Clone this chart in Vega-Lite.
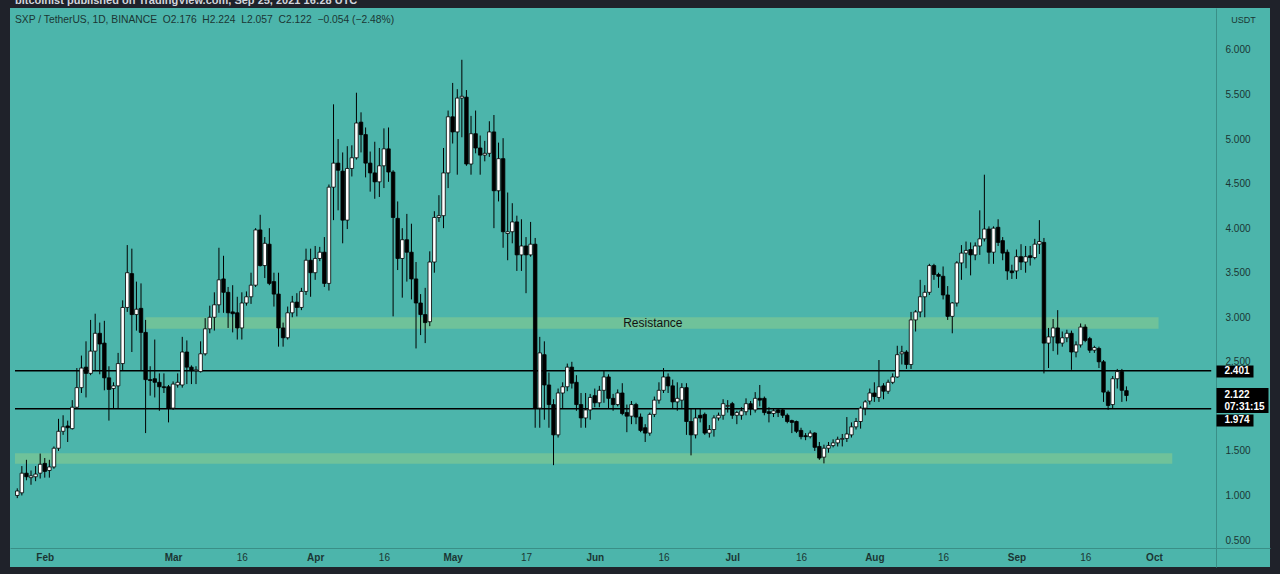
{
  "$schema": "https://vega.github.io/schema/vega-lite/v6.json",
  "width": 1260,
  "height": 559,
  "autosize": "none",
  "padding": {"left": 10, "top": 8, "right": 10, "bottom": 7},
  "background": "#1f222a",
  "view": {"fill": "#4cb5ab", "stroke": null},
  "title": {
    "text": "bitcoinist published on TradingView.com, Sep 25, 2021 16:28 UTC",
    "subtitle": "SXP / TetherUS, 1D, BINANCE\u00a0\u00a0O2.176\u00a0\u00a0H2.224\u00a0\u00a0L2.057\u00a0\u00a0C2.122\u00a0\u00a0−0.054 (−2.48%)",
    "anchor": "start",
    "frame": "group",
    "orient": "top",
    "offset": -17,
    "dx": 5,
    "font": "Liberation Sans",
    "fontSize": 11,
    "fontWeight": "bold",
    "color": "#d1d4dc",
    "subtitleFont": "Liberation Sans",
    "subtitleFontSize": 10.3,
    "subtitleColor": "#1b3533",
    "subtitlePadding": 9
  },
  "datasets": {
    "zones": [
      {"d": "2021-02-23", "d2": "2021-10-02", "lo": 2.87, "hi": 3.0},
      {"d": "2021-01-25T12:10:00Z", "d2": "2021-10-05", "lo": 1.355, "hi": 1.475}
    ],
    "levels": [
      {"d": "2021-01-25T12:10:00Z", "d2": "2021-10-13T12:00:00Z", "p": 2.401},
      {"d": "2021-01-25T12:10:00Z", "d2": "2021-10-13T12:00:00Z", "p": 1.974}
    ],
    "labels": [
      {"d": "2021-06-13T16:00:00Z", "p": 2.935, "t": "Resistance"}
    ],
    "candles": [
      {"d": "2021-01-26", "o": 1.00, "h": 1.08, "l": 0.97, "c": 1.05},
      {"d": "2021-01-27", "o": 1.03, "h": 1.33, "l": 1.00, "c": 1.25},
      {"d": "2021-01-28", "o": 1.25, "h": 1.40, "l": 1.17, "c": 1.21},
      {"d": "2021-01-29", "o": 1.20, "h": 1.28, "l": 1.12, "c": 1.22},
      {"d": "2021-01-30", "o": 1.21, "h": 1.33, "l": 1.16, "c": 1.24},
      {"d": "2021-01-31", "o": 1.25, "h": 1.47, "l": 1.19, "c": 1.35},
      {"d": "2021-02-01", "o": 1.36, "h": 1.42, "l": 1.20, "c": 1.27},
      {"d": "2021-02-02", "o": 1.28, "h": 1.40, "l": 1.20, "c": 1.32},
      {"d": "2021-02-03", "o": 1.32, "h": 1.55, "l": 1.30, "c": 1.53},
      {"d": "2021-02-04", "o": 1.53, "h": 1.86, "l": 1.50, "c": 1.72},
      {"d": "2021-02-05", "o": 1.72, "h": 1.90, "l": 1.68, "c": 1.77},
      {"d": "2021-02-06", "o": 1.78, "h": 1.84, "l": 1.60, "c": 1.76},
      {"d": "2021-02-07", "o": 1.75, "h": 2.07, "l": 1.74, "c": 1.99},
      {"d": "2021-02-08", "o": 1.99, "h": 2.43, "l": 1.97, "c": 2.21},
      {"d": "2021-02-09", "o": 2.21, "h": 2.57, "l": 2.15, "c": 2.43},
      {"d": "2021-02-10", "o": 2.44, "h": 2.73, "l": 2.10, "c": 2.37},
      {"d": "2021-02-11", "o": 2.37, "h": 2.97, "l": 2.35, "c": 2.62},
      {"d": "2021-02-12", "o": 2.62, "h": 3.04, "l": 2.40, "c": 2.82},
      {"d": "2021-02-13", "o": 2.82, "h": 2.94, "l": 2.36, "c": 2.70},
      {"d": "2021-02-14", "o": 2.71, "h": 2.96, "l": 2.18, "c": 2.32},
      {"d": "2021-02-15", "o": 2.32, "h": 2.45, "l": 1.84, "c": 2.19},
      {"d": "2021-02-16", "o": 2.20, "h": 2.27, "l": 1.97, "c": 2.23},
      {"d": "2021-02-17", "o": 2.23, "h": 2.60, "l": 1.98, "c": 2.48},
      {"d": "2021-02-18", "o": 2.48, "h": 3.19, "l": 2.40, "c": 3.11},
      {"d": "2021-02-19", "o": 3.11, "h": 3.81, "l": 3.06, "c": 3.50},
      {"d": "2021-02-20", "o": 3.49, "h": 3.77, "l": 2.61, "c": 3.03},
      {"d": "2021-02-21", "o": 3.03, "h": 3.40, "l": 2.85, "c": 3.09},
      {"d": "2021-02-22", "o": 3.10, "h": 3.38, "l": 2.40, "c": 2.83},
      {"d": "2021-02-23", "o": 2.83, "h": 2.97, "l": 1.70, "c": 2.30},
      {"d": "2021-02-24", "o": 2.30, "h": 2.45, "l": 2.12, "c": 2.29},
      {"d": "2021-02-25", "o": 2.31, "h": 2.75, "l": 2.10, "c": 2.27},
      {"d": "2021-02-26", "o": 2.27, "h": 2.37, "l": 1.95, "c": 2.22},
      {"d": "2021-02-27", "o": 2.22, "h": 2.37, "l": 2.15, "c": 2.21},
      {"d": "2021-02-28", "o": 2.22, "h": 2.24, "l": 1.82, "c": 1.98},
      {"d": "2021-03-01", "o": 1.98, "h": 2.28, "l": 1.96, "c": 2.25},
      {"d": "2021-03-02", "o": 2.24, "h": 2.37, "l": 2.21, "c": 2.27},
      {"d": "2021-03-03", "o": 2.24, "h": 2.78, "l": 2.21, "c": 2.61},
      {"d": "2021-03-04", "o": 2.61, "h": 2.74, "l": 2.25, "c": 2.44},
      {"d": "2021-03-05", "o": 2.44, "h": 2.46, "l": 2.25, "c": 2.40},
      {"d": "2021-03-06", "o": 2.40, "h": 2.45, "l": 2.25, "c": 2.41},
      {"d": "2021-03-07", "o": 2.39, "h": 2.73, "l": 2.38, "c": 2.59},
      {"d": "2021-03-08", "o": 2.59, "h": 2.99, "l": 2.57, "c": 2.87},
      {"d": "2021-03-09", "o": 2.87, "h": 3.13, "l": 2.82, "c": 3.00},
      {"d": "2021-03-10", "o": 3.00, "h": 3.28, "l": 2.85, "c": 3.14},
      {"d": "2021-03-11", "o": 3.14, "h": 3.78, "l": 3.05, "c": 3.42},
      {"d": "2021-03-12", "o": 3.43, "h": 3.69, "l": 3.05, "c": 3.28},
      {"d": "2021-03-13", "o": 3.28, "h": 3.34, "l": 2.88, "c": 3.05},
      {"d": "2021-03-14", "o": 3.06, "h": 3.36, "l": 2.83, "c": 3.04},
      {"d": "2021-03-15", "o": 3.05, "h": 3.23, "l": 2.75, "c": 2.88},
      {"d": "2021-03-16", "o": 2.88, "h": 3.28, "l": 2.75, "c": 3.16},
      {"d": "2021-03-17", "o": 3.16, "h": 3.29, "l": 3.13, "c": 3.23},
      {"d": "2021-03-18", "o": 3.23, "h": 3.50, "l": 3.15, "c": 3.36},
      {"d": "2021-03-19", "o": 3.36, "h": 4.00, "l": 3.34, "c": 3.98},
      {"d": "2021-03-20", "o": 3.98, "h": 4.15, "l": 3.57, "c": 3.58},
      {"d": "2021-03-21", "o": 3.58, "h": 3.90, "l": 3.44, "c": 3.83},
      {"d": "2021-03-22", "o": 3.82, "h": 4.00, "l": 3.36, "c": 3.38},
      {"d": "2021-03-23", "o": 3.40, "h": 3.50, "l": 3.12, "c": 3.26},
      {"d": "2021-03-24", "o": 3.26, "h": 3.50, "l": 2.67, "c": 2.88},
      {"d": "2021-03-25", "o": 2.88, "h": 2.94, "l": 2.67, "c": 2.77},
      {"d": "2021-03-26", "o": 2.77, "h": 3.12, "l": 2.75, "c": 3.05},
      {"d": "2021-03-27", "o": 3.05, "h": 3.24, "l": 3.00, "c": 3.17},
      {"d": "2021-03-28", "o": 3.17, "h": 3.27, "l": 3.01, "c": 3.11},
      {"d": "2021-03-29", "o": 3.11, "h": 3.33, "l": 3.08, "c": 3.29},
      {"d": "2021-03-30", "o": 3.29, "h": 3.77, "l": 3.25, "c": 3.64},
      {"d": "2021-03-31", "o": 3.64, "h": 3.77, "l": 3.23, "c": 3.50},
      {"d": "2021-04-01", "o": 3.50, "h": 3.80, "l": 3.42, "c": 3.66},
      {"d": "2021-04-02", "o": 3.66, "h": 3.79, "l": 3.63, "c": 3.73},
      {"d": "2021-04-03", "o": 3.73, "h": 3.90, "l": 3.34, "c": 3.38},
      {"d": "2021-04-04", "o": 3.38, "h": 4.49, "l": 3.30, "c": 4.46},
      {"d": "2021-04-05", "o": 4.46, "h": 5.39, "l": 4.09, "c": 4.73},
      {"d": "2021-04-06", "o": 4.73, "h": 5.00, "l": 4.20, "c": 4.65},
      {"d": "2021-04-07", "o": 4.64, "h": 4.85, "l": 3.83, "c": 4.09},
      {"d": "2021-04-08", "o": 4.09, "h": 4.92, "l": 3.99, "c": 4.67},
      {"d": "2021-04-09", "o": 4.67, "h": 4.93, "l": 4.58, "c": 4.79},
      {"d": "2021-04-10", "o": 4.79, "h": 5.52, "l": 4.77, "c": 5.18},
      {"d": "2021-04-11", "o": 5.19, "h": 5.30, "l": 4.85, "c": 5.05},
      {"d": "2021-04-12", "o": 5.05, "h": 5.13, "l": 4.57, "c": 4.73},
      {"d": "2021-04-13", "o": 4.73, "h": 4.86, "l": 4.41, "c": 4.62},
      {"d": "2021-04-14", "o": 4.62, "h": 4.97, "l": 4.33, "c": 4.52},
      {"d": "2021-04-15", "o": 4.52, "h": 4.90, "l": 4.35, "c": 4.70},
      {"d": "2021-04-16", "o": 4.70, "h": 5.12, "l": 4.45, "c": 4.89},
      {"d": "2021-04-17", "o": 4.89, "h": 5.13, "l": 4.52, "c": 4.63},
      {"d": "2021-04-18", "o": 4.63, "h": 4.65, "l": 3.01, "c": 4.12},
      {"d": "2021-04-19", "o": 4.11, "h": 4.30, "l": 3.53, "c": 3.66},
      {"d": "2021-04-20", "o": 3.66, "h": 4.00, "l": 3.22, "c": 3.87},
      {"d": "2021-04-21", "o": 3.87, "h": 4.16, "l": 3.40, "c": 3.73},
      {"d": "2021-04-22", "o": 3.73, "h": 4.05, "l": 3.20, "c": 3.43},
      {"d": "2021-04-23", "o": 3.43, "h": 3.62, "l": 2.65, "c": 3.16},
      {"d": "2021-04-24", "o": 3.16, "h": 3.26, "l": 2.80, "c": 3.03},
      {"d": "2021-04-25", "o": 3.03, "h": 3.33, "l": 2.71, "c": 2.94},
      {"d": "2021-04-26", "o": 2.95, "h": 3.74, "l": 2.90, "c": 3.62},
      {"d": "2021-04-27", "o": 3.62, "h": 4.19, "l": 3.50, "c": 4.12},
      {"d": "2021-04-28", "o": 4.12, "h": 4.37, "l": 4.07, "c": 4.14},
      {"d": "2021-04-29", "o": 4.14, "h": 4.90, "l": 4.00, "c": 4.62},
      {"d": "2021-04-30", "o": 4.62, "h": 5.32, "l": 4.45, "c": 5.25},
      {"d": "2021-05-01", "o": 5.25, "h": 5.63, "l": 4.95, "c": 5.08},
      {"d": "2021-05-02", "o": 5.08, "h": 5.56, "l": 4.60, "c": 5.46},
      {"d": "2021-05-03", "o": 5.46, "h": 5.89, "l": 5.02, "c": 5.48},
      {"d": "2021-05-04", "o": 5.47, "h": 5.55, "l": 4.70, "c": 4.72},
      {"d": "2021-05-05", "o": 4.72, "h": 5.26, "l": 4.60, "c": 5.06},
      {"d": "2021-05-06", "o": 5.06, "h": 5.32, "l": 4.84, "c": 4.90},
      {"d": "2021-05-07", "o": 4.90, "h": 5.04, "l": 4.60, "c": 4.82},
      {"d": "2021-05-08", "o": 4.82, "h": 4.98, "l": 4.75, "c": 4.84},
      {"d": "2021-05-09", "o": 4.84, "h": 5.20, "l": 4.80, "c": 5.08},
      {"d": "2021-05-10", "o": 5.08, "h": 5.27, "l": 4.00, "c": 4.42},
      {"d": "2021-05-11", "o": 4.42, "h": 4.96, "l": 4.30, "c": 4.78},
      {"d": "2021-05-12", "o": 4.78, "h": 5.01, "l": 3.78, "c": 3.96},
      {"d": "2021-05-13", "o": 3.94, "h": 4.40, "l": 3.64, "c": 3.96},
      {"d": "2021-05-14", "o": 3.96, "h": 4.28, "l": 3.83, "c": 4.07},
      {"d": "2021-05-15", "o": 4.07, "h": 4.14, "l": 3.52, "c": 3.70},
      {"d": "2021-05-16", "o": 3.70, "h": 4.10, "l": 3.52, "c": 3.80},
      {"d": "2021-05-17", "o": 3.80, "h": 3.90, "l": 3.27, "c": 3.70},
      {"d": "2021-05-18", "o": 3.70, "h": 4.07, "l": 3.68, "c": 3.82},
      {"d": "2021-05-19", "o": 3.82, "h": 3.89, "l": 1.76, "c": 1.98},
      {"d": "2021-05-20", "o": 1.98, "h": 2.78, "l": 1.76, "c": 2.60},
      {"d": "2021-05-21", "o": 2.58, "h": 2.73, "l": 1.85, "c": 2.24},
      {"d": "2021-05-22", "o": 2.24, "h": 2.38, "l": 1.76, "c": 2.02},
      {"d": "2021-05-23", "o": 2.02, "h": 2.08, "l": 1.34, "c": 1.68},
      {"d": "2021-05-24", "o": 1.68, "h": 2.20, "l": 1.65, "c": 2.15},
      {"d": "2021-05-25", "o": 2.15, "h": 2.27, "l": 1.97, "c": 2.22},
      {"d": "2021-05-26", "o": 2.22, "h": 2.48, "l": 2.17, "c": 2.44},
      {"d": "2021-05-27", "o": 2.44, "h": 2.50, "l": 2.20, "c": 2.26},
      {"d": "2021-05-28", "o": 2.27, "h": 2.35, "l": 1.95, "c": 2.02},
      {"d": "2021-05-29", "o": 2.02, "h": 2.15, "l": 1.76, "c": 1.87},
      {"d": "2021-05-30", "o": 1.87, "h": 2.15, "l": 1.76, "c": 1.96},
      {"d": "2021-05-31", "o": 1.96, "h": 2.14, "l": 1.85, "c": 2.10},
      {"d": "2021-06-01", "o": 2.12, "h": 2.20, "l": 1.99, "c": 2.04},
      {"d": "2021-06-02", "o": 2.04, "h": 2.23, "l": 1.99, "c": 2.18},
      {"d": "2021-06-03", "o": 2.18, "h": 2.40, "l": 2.04, "c": 2.33},
      {"d": "2021-06-04", "o": 2.33, "h": 2.36, "l": 1.98, "c": 2.09},
      {"d": "2021-06-05", "o": 2.09, "h": 2.14, "l": 1.95, "c": 2.02},
      {"d": "2021-06-06", "o": 2.02, "h": 2.19, "l": 2.00, "c": 2.15},
      {"d": "2021-06-07", "o": 2.15, "h": 2.26, "l": 1.90, "c": 1.92},
      {"d": "2021-06-08", "o": 1.93, "h": 2.02, "l": 1.71, "c": 1.89},
      {"d": "2021-06-09", "o": 1.89, "h": 2.06, "l": 1.80, "c": 2.02},
      {"d": "2021-06-10", "o": 2.02, "h": 2.04, "l": 1.80, "c": 1.88},
      {"d": "2021-06-11", "o": 1.88, "h": 1.92, "l": 1.71, "c": 1.73},
      {"d": "2021-06-12", "o": 1.76, "h": 1.80, "l": 1.60, "c": 1.70},
      {"d": "2021-06-13", "o": 1.70, "h": 1.93, "l": 1.67, "c": 1.91},
      {"d": "2021-06-14", "o": 1.91, "h": 2.11, "l": 1.88, "c": 2.07},
      {"d": "2021-06-15", "o": 2.07, "h": 2.27, "l": 2.03, "c": 2.18},
      {"d": "2021-06-16", "o": 2.18, "h": 2.43, "l": 2.15, "c": 2.33},
      {"d": "2021-06-17", "o": 2.33, "h": 2.37, "l": 2.15, "c": 2.23},
      {"d": "2021-06-18", "o": 2.23, "h": 2.30, "l": 1.98, "c": 2.05},
      {"d": "2021-06-19", "o": 2.05, "h": 2.27, "l": 1.95, "c": 2.09},
      {"d": "2021-06-20", "o": 2.07, "h": 2.26, "l": 1.97, "c": 2.21},
      {"d": "2021-06-21", "o": 2.21, "h": 2.26, "l": 1.68, "c": 1.83},
      {"d": "2021-06-22", "o": 1.83, "h": 1.97, "l": 1.45, "c": 1.68},
      {"d": "2021-06-23", "o": 1.68, "h": 1.97, "l": 1.64, "c": 1.87},
      {"d": "2021-06-24", "o": 1.90, "h": 1.97, "l": 1.82, "c": 1.87},
      {"d": "2021-06-25", "o": 1.91, "h": 1.93, "l": 1.68, "c": 1.70},
      {"d": "2021-06-26", "o": 1.70, "h": 1.79, "l": 1.65, "c": 1.74},
      {"d": "2021-06-27", "o": 1.74, "h": 1.90, "l": 1.66, "c": 1.87},
      {"d": "2021-06-28", "o": 1.87, "h": 1.93, "l": 1.84, "c": 1.90},
      {"d": "2021-06-29", "o": 1.90, "h": 2.08, "l": 1.85, "c": 2.03},
      {"d": "2021-06-30", "o": 2.00, "h": 2.07, "l": 1.93, "c": 2.01},
      {"d": "2021-07-01", "o": 2.03, "h": 2.05, "l": 1.86, "c": 1.90},
      {"d": "2021-07-02", "o": 1.90, "h": 1.95, "l": 1.80, "c": 1.93},
      {"d": "2021-07-03", "o": 1.90, "h": 1.99, "l": 1.85, "c": 1.95},
      {"d": "2021-07-04", "o": 1.94, "h": 2.09, "l": 1.90, "c": 2.03},
      {"d": "2021-07-05", "o": 2.03, "h": 2.06, "l": 1.90, "c": 1.97},
      {"d": "2021-07-06", "o": 1.96, "h": 2.16, "l": 1.93, "c": 2.09},
      {"d": "2021-07-07", "o": 2.09, "h": 2.24, "l": 2.00, "c": 2.07},
      {"d": "2021-07-08", "o": 2.09, "h": 2.11, "l": 1.90, "c": 1.93},
      {"d": "2021-07-09", "o": 1.94, "h": 1.99, "l": 1.82, "c": 1.92},
      {"d": "2021-07-10", "o": 1.92, "h": 1.97, "l": 1.88, "c": 1.95},
      {"d": "2021-07-11", "o": 1.96, "h": 1.98, "l": 1.88, "c": 1.93},
      {"d": "2021-07-12", "o": 1.96, "h": 1.98, "l": 1.87, "c": 1.90},
      {"d": "2021-07-13", "o": 1.90, "h": 1.92, "l": 1.81, "c": 1.83},
      {"d": "2021-07-14", "o": 1.84, "h": 1.85, "l": 1.70, "c": 1.82},
      {"d": "2021-07-15", "o": 1.83, "h": 1.84, "l": 1.70, "c": 1.72},
      {"d": "2021-07-16", "o": 1.73, "h": 1.76, "l": 1.63, "c": 1.66},
      {"d": "2021-07-17", "o": 1.67, "h": 1.70, "l": 1.62, "c": 1.66},
      {"d": "2021-07-18", "o": 1.66, "h": 1.73, "l": 1.64, "c": 1.70},
      {"d": "2021-07-19", "o": 1.70, "h": 1.71, "l": 1.50, "c": 1.54},
      {"d": "2021-07-20", "o": 1.55, "h": 1.60, "l": 1.40, "c": 1.42},
      {"d": "2021-07-21", "o": 1.43, "h": 1.57, "l": 1.36, "c": 1.53},
      {"d": "2021-07-22", "o": 1.53, "h": 1.60, "l": 1.48, "c": 1.56},
      {"d": "2021-07-23", "o": 1.56, "h": 1.63, "l": 1.54, "c": 1.59},
      {"d": "2021-07-24", "o": 1.59, "h": 1.66, "l": 1.55, "c": 1.63},
      {"d": "2021-07-25", "o": 1.63, "h": 1.69, "l": 1.55, "c": 1.64},
      {"d": "2021-07-26", "o": 1.64, "h": 1.88, "l": 1.60, "c": 1.69},
      {"d": "2021-07-27", "o": 1.68, "h": 1.82, "l": 1.65, "c": 1.77},
      {"d": "2021-07-28", "o": 1.77, "h": 1.87, "l": 1.74, "c": 1.83},
      {"d": "2021-07-29", "o": 1.83, "h": 2.00, "l": 1.75, "c": 1.98},
      {"d": "2021-07-30", "o": 1.98, "h": 2.07, "l": 1.90, "c": 2.05},
      {"d": "2021-07-31", "o": 2.06, "h": 2.20, "l": 2.02, "c": 2.15},
      {"d": "2021-08-01", "o": 2.15, "h": 2.27, "l": 2.05, "c": 2.11},
      {"d": "2021-08-02", "o": 2.10, "h": 2.52, "l": 2.05, "c": 2.22},
      {"d": "2021-08-03", "o": 2.23, "h": 2.26, "l": 2.08, "c": 2.17},
      {"d": "2021-08-04", "o": 2.17, "h": 2.30, "l": 2.14, "c": 2.27},
      {"d": "2021-08-05", "o": 2.27, "h": 2.37, "l": 2.25, "c": 2.33},
      {"d": "2021-08-06", "o": 2.33, "h": 2.68, "l": 2.32, "c": 2.58},
      {"d": "2021-08-07", "o": 2.59, "h": 2.68, "l": 2.47, "c": 2.61},
      {"d": "2021-08-08", "o": 2.61, "h": 2.63, "l": 2.42, "c": 2.47},
      {"d": "2021-08-09", "o": 2.47, "h": 3.06, "l": 2.42, "c": 2.97},
      {"d": "2021-08-10", "o": 2.97, "h": 3.08, "l": 2.84, "c": 3.06},
      {"d": "2021-08-11", "o": 3.06, "h": 3.42, "l": 3.00, "c": 3.23},
      {"d": "2021-08-12", "o": 3.23, "h": 3.36, "l": 3.00, "c": 3.28},
      {"d": "2021-08-13", "o": 3.28, "h": 3.60, "l": 3.25, "c": 3.58},
      {"d": "2021-08-14", "o": 3.58, "h": 3.60, "l": 3.42, "c": 3.48},
      {"d": "2021-08-15", "o": 3.48, "h": 3.50, "l": 3.33, "c": 3.46},
      {"d": "2021-08-16", "o": 3.46, "h": 3.57, "l": 3.20, "c": 3.25},
      {"d": "2021-08-17", "o": 3.25, "h": 3.35, "l": 2.97, "c": 3.01},
      {"d": "2021-08-18", "o": 3.01, "h": 3.17, "l": 2.82, "c": 3.16},
      {"d": "2021-08-19", "o": 3.16, "h": 3.63, "l": 3.12, "c": 3.61},
      {"d": "2021-08-20", "o": 3.61, "h": 3.81, "l": 3.42, "c": 3.72},
      {"d": "2021-08-21", "o": 3.72, "h": 3.85, "l": 3.55, "c": 3.75},
      {"d": "2021-08-22", "o": 3.76, "h": 3.84, "l": 3.47, "c": 3.70},
      {"d": "2021-08-23", "o": 3.70, "h": 3.84, "l": 3.64, "c": 3.80},
      {"d": "2021-08-24", "o": 3.80, "h": 4.20, "l": 3.70, "c": 3.88},
      {"d": "2021-08-25", "o": 3.88, "h": 4.60, "l": 3.85, "c": 3.99},
      {"d": "2021-08-26", "o": 3.99, "h": 4.02, "l": 3.60, "c": 3.73},
      {"d": "2021-08-27", "o": 3.73, "h": 4.02, "l": 3.60, "c": 4.00},
      {"d": "2021-08-28", "o": 4.01, "h": 4.10, "l": 3.80, "c": 3.84},
      {"d": "2021-08-29", "o": 3.86, "h": 3.90, "l": 3.64, "c": 3.72},
      {"d": "2021-08-30", "o": 3.73, "h": 3.76, "l": 3.42, "c": 3.52},
      {"d": "2021-08-31", "o": 3.52, "h": 3.59, "l": 3.43, "c": 3.50},
      {"d": "2021-09-01", "o": 3.52, "h": 3.76, "l": 3.43, "c": 3.68},
      {"d": "2021-09-02", "o": 3.68, "h": 3.82, "l": 3.53, "c": 3.62},
      {"d": "2021-09-03", "o": 3.62, "h": 3.80, "l": 3.50, "c": 3.68},
      {"d": "2021-09-04", "o": 3.69, "h": 3.80, "l": 3.58, "c": 3.67},
      {"d": "2021-09-05", "o": 3.67, "h": 3.88, "l": 3.65, "c": 3.82},
      {"d": "2021-09-06", "o": 3.82, "h": 4.09, "l": 3.71, "c": 3.85},
      {"d": "2021-09-07", "o": 3.84, "h": 3.89, "l": 2.37, "c": 2.71},
      {"d": "2021-09-08", "o": 2.71, "h": 2.88, "l": 2.43, "c": 2.78},
      {"d": "2021-09-09", "o": 2.78, "h": 2.98, "l": 2.62, "c": 2.88},
      {"d": "2021-09-10", "o": 2.88, "h": 3.08, "l": 2.58, "c": 2.71},
      {"d": "2021-09-11", "o": 2.71, "h": 2.84, "l": 2.67, "c": 2.77},
      {"d": "2021-09-12", "o": 2.77, "h": 2.86, "l": 2.72, "c": 2.82},
      {"d": "2021-09-13", "o": 2.82, "h": 2.85, "l": 2.41, "c": 2.61},
      {"d": "2021-09-14", "o": 2.61, "h": 2.73, "l": 2.55, "c": 2.69},
      {"d": "2021-09-15", "o": 2.69, "h": 2.93, "l": 2.66, "c": 2.89},
      {"d": "2021-09-16", "o": 2.89, "h": 2.92, "l": 2.72, "c": 2.74},
      {"d": "2021-09-17", "o": 2.76, "h": 2.78, "l": 2.60, "c": 2.63},
      {"d": "2021-09-18", "o": 2.63, "h": 2.68, "l": 2.60, "c": 2.66},
      {"d": "2021-09-19", "o": 2.65, "h": 2.67, "l": 2.43, "c": 2.50},
      {"d": "2021-09-20", "o": 2.50, "h": 2.52, "l": 2.05, "c": 2.16},
      {"d": "2021-09-21", "o": 2.16, "h": 2.18, "l": 1.96, "c": 2.01},
      {"d": "2021-09-22", "o": 2.02, "h": 2.34, "l": 1.97, "c": 2.31},
      {"d": "2021-09-23", "o": 2.31, "h": 2.42, "l": 2.20, "c": 2.39},
      {"d": "2021-09-24", "o": 2.39, "h": 2.42, "l": 2.05, "c": 2.18},
      {"d": "2021-09-25", "o": 2.176, "h": 2.224, "l": 2.057, "c": 2.122}
    ]
  },
  "encoding": {
    "x": {
      "field": "d",
      "type": "temporal",
      "scale": {
        "type": "utc",
        "domain": [
          {"year": 2021, "month": 1, "date": 25, "hours": 12, "minutes": 9, "utc": true},
          {"year": 2021, "month": 10, "date": 25, "hours": 5, "minutes": 31, "utc": true}
        ]
      },
      "axis": {
        "orient": "bottom",
        "offset": -19,
        "title": null,
        "values": [
          {"year": 2021, "month": 2, "date": 1, "utc": true},
          {"year": 2021, "month": 3, "date": 1, "utc": true},
          {"year": 2021, "month": 3, "date": 16, "utc": true},
          {"year": 2021, "month": 4, "date": 1, "utc": true},
          {"year": 2021, "month": 4, "date": 16, "utc": true},
          {"year": 2021, "month": 5, "date": 1, "utc": true},
          {"year": 2021, "month": 5, "date": 17, "utc": true},
          {"year": 2021, "month": 6, "date": 1, "utc": true},
          {"year": 2021, "month": 6, "date": 16, "utc": true},
          {"year": 2021, "month": 7, "date": 1, "utc": true},
          {"year": 2021, "month": 7, "date": 16, "utc": true},
          {"year": 2021, "month": 8, "date": 1, "utc": true},
          {"year": 2021, "month": 8, "date": 16, "utc": true},
          {"year": 2021, "month": 9, "date": 1, "utc": true},
          {"year": 2021, "month": 9, "date": 16, "utc": true},
          {"year": 2021, "month": 10, "date": 1, "utc": true}
        ],
        "labelExpr": "utcdate(datum.value) == 1 ? utcFormat(datum.value, '%b') : utcFormat(datum.value, '%-d')",
        "labelFontWeight": {"condition": {"test": "utcdate(datum.value) == 1", "value": "bold"}, "value": "normal"},
        "ticks": false,
        "grid": false,
        "domain": true,
        "domainColor": "#3a8f87",
        "domainWidth": 1,
        "labelPadding": 4,
        "labelFont": "Liberation Sans",
        "labelFontSize": 10,
        "labelColor": "#1b3533",
        "labelOverlap": false,
        "labelFlush": false,
        "labelBound": false
      }
    }
  },
  "layer": [
    {
      "data": {"name": "zones"},
      "mark": {"type": "rect", "fill": "#6fc29a"},
      "encoding": {
        "x2": {"field": "d2"},
        "y": {"field": "lo", "type": "quantitative", "scale": {"domain": [0.197, 6.471], "zero": false, "nice": false}, "axis": null},
        "y2": {"field": "hi"}
      }
    },
    {
      "data": {"name": "levels"},
      "mark": {"type": "rule", "color": "#000000", "strokeWidth": 1.5},
      "encoding": {
        "x2": {"field": "d2"},
        "y": {
          "field": "p",
          "type": "quantitative",
          "scale": {"domain": [0.197, 6.471], "zero": false, "nice": false},
          "axis": {
            "orient": "right",
            "offset": -54,
            "title": null,
            "values": [2.401, 1.847],
            "labelExpr": "datum.value > 2 ? '2.401' : '1.974'",
            "domain": false,
            "grid": false,
            "ticks": true,
            "tickSize": 37,
            "tickWidth": 12,
            "tickColor": "#000000",
            "tickCap": "butt",
            "labelPadding": -29,
            "labelAlign": "left",
            "labelFont": "Liberation Sans",
            "labelFontSize": 10,
            "labelFontWeight": "bold",
            "labelColor": "#ffffff",
            "labelOverlap": false,
            "labelBound": false,
            "zindex": 2
          }
        }
      }
    },
    {
      "data": {"name": "candles"},
      "mark": {"type": "rule", "color": "#000000", "strokeWidth": 1},
      "encoding": {
        "y": {
          "field": "l",
          "type": "quantitative",
          "scale": {"domain": [0.197, 6.471], "zero": false, "nice": false},
          "axis": {
            "orient": "right",
            "offset": -54,
            "title": "USDT",
            "titleAngle": 0,
            "titleAlign": "center",
            "titleBaseline": "middle",
            "titleX": 27,
            "titleY": 11,
            "titleFont": "Liberation Sans",
            "titleFontSize": 9,
            "titleFontWeight": "normal",
            "titleColor": "#1b3533",
            "values": [0.5, 1, 1.5, 2, 2.5, 3, 3.5, 4, 4.5, 5, 5.5, 6],
            "format": ".3f",
            "ticks": false,
            "grid": false,
            "domain": true,
            "domainColor": "#3a8f87",
            "domainWidth": 1,
            "labelPadding": 9,
            "labelAlign": "left",
            "labelFont": "Liberation Sans",
            "labelFontSize": 10,
            "labelColor": "#1b3533",
            "labelOverlap": false,
            "labelBound": false,
            "zindex": 0
          }
        },
        "y2": {"field": "h"}
      }
    },
    {
      "data": {"name": "candles"},
      "mark": {"type": "bar", "width": 3.5, "stroke": "#000000", "strokeWidth": 0.8},
      "encoding": {
        "y": {"field": "o", "type": "quantitative", "scale": {"domain": [0.197, 6.471], "zero": false, "nice": false}, "axis": null},
        "y2": {"field": "c"},
        "fill": {"condition": {"test": "datum.c >= datum.o", "value": "#ffffff"}, "value": "#000000"}
      }
    },
    {
      "data": {"name": "labels"},
      "mark": {"type": "text", "font": "Liberation Sans", "fontSize": 12, "color": "#111111", "align": "center", "baseline": "middle"},
      "encoding": {
        "y": {
          "field": "p",
          "type": "quantitative",
          "scale": {"domain": [0.197, 6.471], "zero": false, "nice": false},
          "axis": {
            "orient": "right",
            "offset": -54,
            "title": null,
            "values": [2.066],
            "labelExpr": "['2.122', '07:31:15']",
            "domain": false,
            "grid": false,
            "ticks": true,
            "tickSize": 52,
            "tickWidth": 25,
            "tickColor": "#000000",
            "tickCap": "butt",
            "labelPadding": -44,
            "labelOffset": -6,
            "labelAlign": "left",
            "labelFont": "Liberation Sans",
            "labelFontSize": 10,
            "labelFontWeight": "bold",
            "labelLineHeight": 12,
            "labelColor": "#ffffff",
            "labelOverlap": false,
            "labelBound": false,
            "zindex": 2
          }
        },
        "text": {"field": "t"}
      }
    }
  ],
  "resolve": {"axis": {"y": "independent"}}
}
